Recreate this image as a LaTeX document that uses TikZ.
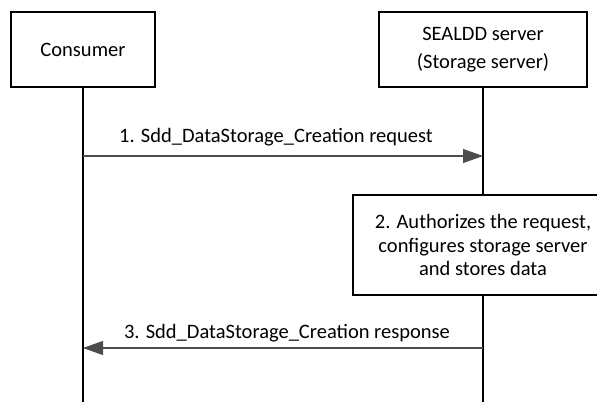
\documentclass[tikz,border=0pt]{standalone}
\usepackage{fontspec}
\setmainfont{Carlito}
\usetikzlibrary{positioning,arrows.meta}

\tikzset{
	entity/.style={draw, line width=1pt, minimum width=72pt, minimum height=37.5pt, align=center, fill=white},
	action/.style={draw, line width=1pt, minimum width=130pt, minimum height=50pt, align=center, fill=white,
		font=\fontsize{10.25}{11.75}\selectfont},
	lifeline/.style={line width=0.75pt},
	message/.style={draw=black!70, line width=0.6pt, -{Triangle[length=10pt,width=7pt]}},
	msglabel/.style={midway, yshift=9.5pt},
}

\begin{document}
\begin{tikzpicture}[x=0.5pt, y=-0.5pt, font=\fontsize{10.25}{14}\selectfont]
	\useasboundingbox (0,0) rectangle (597,401);

	% participants
	\node [entity] (consumer) at (83,49.5) {Consumer};
	\node [entity, minimum width=104pt] (sealdd) at (483,49.5) {SEALDD server\\(Storage server)};
	\coordinate [below=157pt of consumer] (consumer-end);
	\coordinate [below=157pt of sealdd] (sealdd-end);

	% lifelines
	\draw [lifeline] (consumer) -- (consumer-end);
	\draw [lifeline] (sealdd) -- (sealdd-end);

	% message points
	\coordinate (req-c) at (consumer |- 0,156);
	\coordinate (req-s) at (sealdd |- 0,156);
	\coordinate (resp-s) at (sealdd |- 0,348);
	\coordinate (resp-c) at (consumer |- 0,348);

	% step 1
	\draw [message] (req-c) -- node [msglabel, xshift=-3.5pt] {1. Sdd\_DataStorage\_Creation request} (req-s);

	% step 2
	\node [action] (authorize) at (sealdd |- 0,245) {2. Authorizes the request,\\configures storage server\\and stores data};

	% step 3
	\draw [message] (resp-s) -- node [msglabel, yshift=-2pt, xshift=2pt] {3. Sdd\_DataStorage\_Creation response} (resp-c);
\end{tikzpicture}
\end{document}
